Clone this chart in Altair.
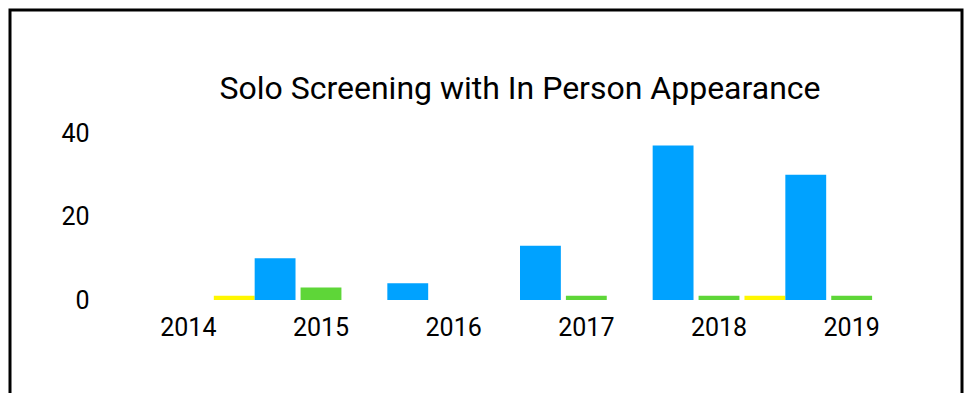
import altair as alt
import pandas as pd

years = ["2014", "2015", "2016", "2017", "2018", "2019"]
series_names = ["Series 1", "Series 2", "Series 3"]
series_colors = ["#00A2FF", "#5ED638", "#FFF700"]
series1 = [0, 10, 4, 13, 37, 30]
series2 = [0, 3, 0, 1, 1, 1]
series3 = [1, 0, 0, 0, 1, 0]

rows = []
for i, y in enumerate(years):
    for name, vals in zip(series_names, [series1, series2, series3]):
        rows.append({"year": y, "series": name, "value": vals[i]})
df = pd.DataFrame(rows)

FONT = "Roboto"

bars = alt.Chart(df).mark_bar().encode(
    x=alt.X("year:N", sort=years, title=None,
            scale=alt.Scale(paddingInner=0, paddingOuter=0),
            axis=alt.Axis(labelAngle=0, domain=False, ticks=False, labelFontSize=25,
                          labelPadding=15, labelColor="black", labelFont=FONT)),
    xOffset=alt.XOffset("series:N", sort=series_names,
                        scale=alt.Scale(paddingInner=0.11, paddingOuter=0)),
    y=alt.Y("value:Q", title=None,
            scale=alt.Scale(domain=[0, 40], nice=False),
            axis=alt.Axis(values=[0, 20, 40], domain=False, ticks=False, grid=False,
                          labelFontSize=25, labelPadding=33, labelColor="black",
                          labelFont=FONT)),
    color=alt.Color("series:N", sort=series_names,
                    scale=alt.Scale(domain=series_names, range=series_colors),
                    legend=None),
)

frame = alt.Chart(pd.DataFrame({"a": [0]})).mark_rect(
    filled=False, stroke="black", strokeWidth=3
).encode(
    x=alt.value(-112), x2=alt.value(840), y=alt.value(-123), y2=alt.value(400)
)

chart = alt.layer(bars, frame).properties(
    width=796,
    height=167,
    autosize="none",
    padding={"left": 114, "top": 125, "right": 46, "bottom": 93},
    title=alt.TitleParams("Solo Screening with In Person Appearance", fontSize=32,
                          font=FONT, fontWeight="normal", color="black",
                          baseline="alphabetic", offset=0, dy=122.5,
                          anchor="middle", frame="group"),
).configure(background="white").configure_view(stroke=None)

chart.save("out.html", embed_options={"renderer": "svg", "actions": False})
